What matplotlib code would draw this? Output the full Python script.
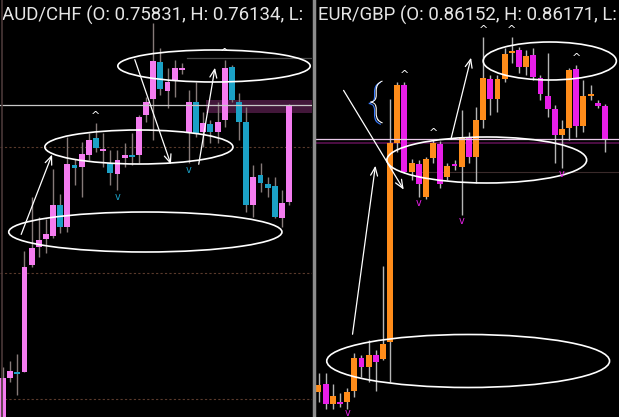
import matplotlib.pyplot as plt
import matplotlib.patheffects as pe
from matplotlib.patches import Ellipse
from matplotlib.lines import Line2D

# AUD/CHF candles (chart levels, 1 level = 1 screen row)
aud_open = [-8, 39, 45, 45, 152, 170, 178, 181, 212, 190, 252, 250, 262, 279, 267, 254, 243, 259, 262, 262,
            302, 318, 355, 326, 337, 348, 284, 315, 285, 293, 285, 297, 350, 315, 295, 212, 242, 233, 231, 199, 215]
aud_high = [50, 56, 63, 166, 220, 200, 198, 248, 223, 280, 258, 275, 284, 294, 284, 267, 267, 274, 284, 302,
            320, 394, 369, 349, 357, 354, 327, 335, 305, 297, 315, 357, 352, 324, 310, 252, 254, 240, 240, 227, 313]
aud_low = [-13, 35, 22, 45, 150, 160, 164, 179, 184, 185, 232, 220, 257, 265, 250, 232, 227, 250, 252, 254,
           295, 277, 322, 309, 320, 343, 254, 280, 270, 274, 274, 290, 315, 277, 205, 200, 225, 220, 199, 190, 212]
aud_close = [39, 46, 43, 150, 169, 177, 183, 212, 190, 253, 249, 263, 277, 269, 268, 244, 257, 262, 261, 300,
             315, 356, 328, 335, 349, 349, 315, 284, 294, 285, 295, 349, 317, 295, 212, 240, 234, 229, 200, 214, 311]
aud_fractal_up = [13, 31]
aud_fractal_down = [16, 26]

# EUR/GBP candles
eur_open = [25, 33, 13, 15, 15, 26, 59, 50, 62, 58, 75, 274, 332, 245, 253, 220, 259, 273, 240, 253,
            250, 280, 260, 297, 338, 318, 338, 364, 367, 350, 362, 339, 321, 308, 282, 289, 348, 291, 321, 314, 311]
eur_high = [44, 44, 33, 24, 29, 64, 62, 77, 67, 151, 318, 335, 335, 258, 257, 260, 277, 276, 254, 257,
            307, 285, 310, 380, 342, 342, 369, 380, 370, 367, 369, 342, 364, 312, 297, 349, 352, 337, 332, 317, 313]
eur_low = [15, 8, 8, 10, 8, 20, 40, 35, 26, 57, 35, 265, 244, 237, 220, 218, 254, 229, 237, 247,
           202, 254, 234, 289, 302, 305, 335, 354, 344, 342, 337, 317, 300, 254, 249, 277, 280, 285, 317, 309, 265]
eur_close = [32, 13, 21, 13, 25, 59, 50, 62, 55, 73, 274, 332, 245, 254, 233, 258, 274, 233, 251, 251,
             280, 260, 297, 339, 318, 338, 363, 366, 350, 361, 340, 323, 308, 282, 288, 347, 291, 321, 323, 311, 278]
eur_fractal_up = [12, 16, 23, 27, 36]
eur_fractal_down = [4, 14, 20, 34]

AUD_UP, AUD_DOWN, AUD_WICK = "#f47cf0", "#1ba1c6", "#857a78"
EUR_UP, EUR_DOWN, EUR_WICK = "#ff8c1a", "#e81ee8", "#b5b5b5"


def draw_candles(ax, o, h, l, c, up, down, wick):
    for i in range(len(o)):
        color = up if c[i] >= o[i] else down
        ax.vlines(i, l[i], h[i], color=wick, lw=1, zorder=2)
        lo, hi = min(o[i], c[i]), max(o[i], c[i])
        ax.bar(i, max(hi - lo, 2), bottom=lo if hi - lo >= 2 else lo - 1,
               width=0.82, color=color, lw=0, zorder=3)


def ring(ax, cx, cy, w, h):
    ax.add_patch(Ellipse((cx, cy), w, h, fill=False, ec="white", lw=1.2, zorder=5))


def arrow(ax, start, end):
    ax.annotate("", xy=end, xytext=start,
                arrowprops=dict(arrowstyle="->,head_length=0.6,head_width=0.25",
                                color="white", lw=0.9), zorder=5)


fig = plt.figure(figsize=(6.19, 4.17), dpi=100, facecolor="black")
ax_l = fig.add_axes([0, 0, 312 / 619, 1])
ax_r = fig.add_axes([316 / 619, 0, 303 / 619, 1])
for ax in (ax_l, ax_r):
    ax.set_facecolor("black")
    ax.set_ylim(0, 417)
    for s in ax.spines.values():
        s.set_visible(False)
    ax.set_xticks([])
    ax.set_yticks([])
ax_l.set_xlim(-0.42, 43.2)
ax_r.set_xlim(-0.35, 41.97)

# left panel: grid levels and price lines
for lvl in (270, 144, 18):
    ax_l.axhline(lvl, color="#5a3a2c", lw=0.8, ls=(0, (2, 2)), zorder=1)
ax_l.axhspan(304, 317, xmin=0.66, color="#7a2a6a", alpha=0.55, lw=0, zorder=1)
ax_l.axhline(312, color="#c8c8c8", lw=0.9, zorder=4)
ax_l.axhline(359, xmin=0.6, color="#4a4a4a", lw=0.9, zorder=1)

# right panel price lines
ax_r.axhline(278, color="#e8c8e8", lw=0.9, zorder=4)
ax_r.axhline(274, color="#5a1050", lw=1.2, zorder=1)
ax_r.axhline(245, xmin=0.33, color="#3a2a2a", lw=0.8, zorder=1)

draw_candles(ax_l, aud_open, aud_high, aud_low, aud_close, AUD_UP, AUD_DOWN, AUD_WICK)
draw_candles(ax_r, eur_open, eur_high, eur_low, eur_close, EUR_UP, EUR_DOWN, EUR_WICK)

for i in aud_fractal_up:
    ax_l.text(i, aud_high[i] + 2, "^", color="white", fontsize=8, ha="center", va="bottom", zorder=6)
for i in aud_fractal_down:
    ax_l.text(i, aud_low[i] - 2, "v", color=AUD_DOWN, fontsize=7, ha="center", va="top", zorder=6)
for i in eur_fractal_up:
    ax_r.text(i, eur_high[i] + 2, "^", color="white", fontsize=8, ha="center", va="bottom", zorder=6)
for i in eur_fractal_down:
    ax_r.text(i, max(eur_low[i] - 1, 9), "v", color=EUR_DOWN, fontsize=7, ha="center", va="top", zorder=6)

# hand-drawn markup
ring(ax_l, 29.5, 351, 26.9, 32)
ring(ax_l, 19.0, 270, 26.3, 34)
ring(ax_l, 19.9, 185, 38.2, 40)
arrow(ax_l, (2.4, 180), (7.0, 265))
arrow(ax_l, (18.3, 360), (23.6, 250))
arrow(ax_l, (27.3, 250), (29.7, 352))

ring(ax_r, 32.3, 356, 18.6, 38)
ring(ax_r, 23.5, 257, 27.9, 46)
ring(ax_r, 20.9, 56, 39.5, 53)
arrow(ax_r, (3.3, 329), (12.1, 225))
arrow(ax_r, (4.7, 80), (8.0, 254))
arrow(ax_r, (18.4, 275), (21.4, 362))
ax_r.text(8.0, 315, "{", color="white", fontsize=31, family="Roboto", fontweight="light",
          ha="center", va="center", zorder=6,
          path_effects=[pe.withSimplePatchShadow(offset=(-1.2, -1), shadow_rgbFace="#3a7cff", alpha=1)])

ax_l.text(0.005, 396, "AUD/CHF (O: 0.75831, H: 0.76134, L:", color="#e6e6e6",
          fontsize=13.4, family="Roboto", va="baseline", transform=ax_l.get_yaxis_transform(),
          clip_on=True, zorder=7)
ax_r.text(0.005, 396, "EUR/GBP (O: 0.86152, H: 0.86171, L:", color="#e6e6e6",
          fontsize=13.4, family="Roboto", va="baseline", transform=ax_r.get_yaxis_transform(),
          clip_on=True, zorder=7)

fig.add_artist(Line2D([314 / 619, 314 / 619], [0, 1], color="#8c8c8c", lw=2.5))
fig.add_artist(Line2D([1.5 / 619, 1.5 / 619], [0, 1], color="#4a3838", lw=1.2))

fig.savefig("out.png", dpi=100, facecolor="black")
